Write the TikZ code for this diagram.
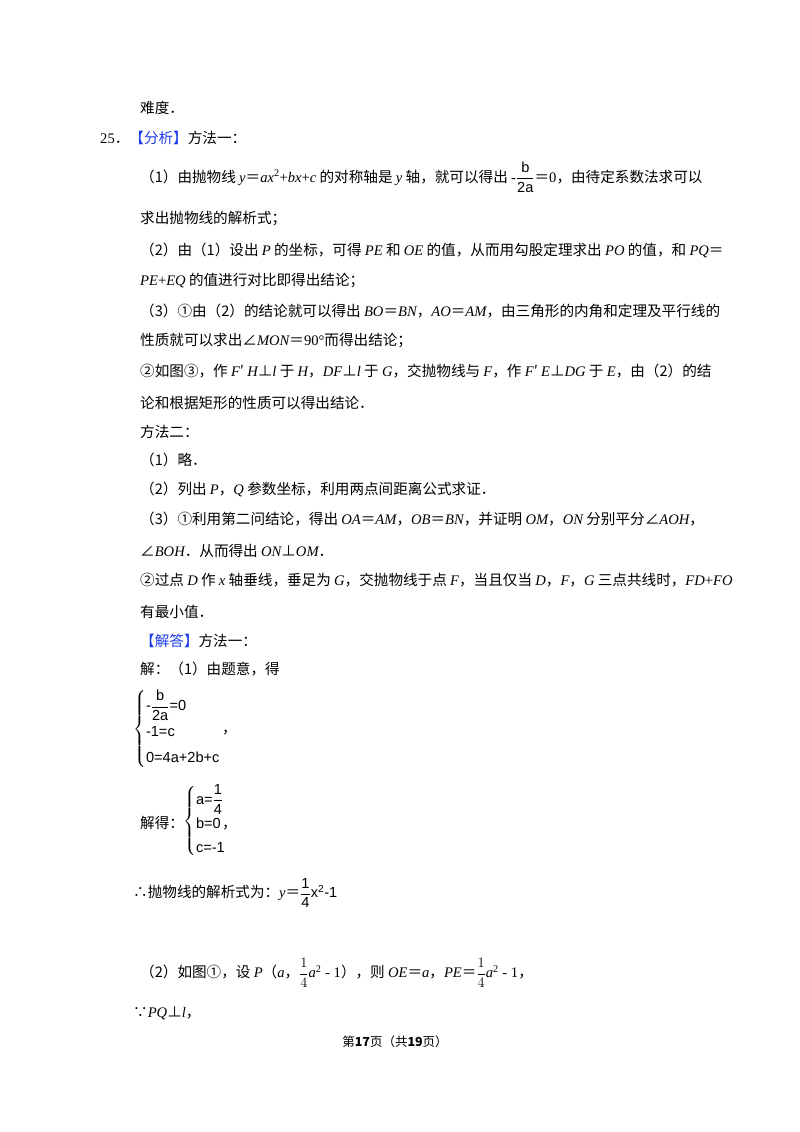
\documentclass[tikz,border=0pt]{standalone}
\usepackage{amsmath}
\usepackage{fontspec}
\setmainfont{Noto Sans CJK SC}
\newfontfamily\lat{Liberation Serif}
\newfontfamily\las{Liberation Sans}
\newcommand{\mi}[1]{{\lat\itshape #1}}
\newcommand{\mr}[1]{{\lat #1}}
\newcommand{\eq}{＝}
\definecolor{hb}{RGB}{30,60,235}
\begin{document}
\begin{tikzpicture}[x=1pt,y=1pt,
  tl/.style={anchor=west,inner sep=0pt,font=\fontsize{14.6}{17}\selectfont}]
\useasboundingbox (0,0) rectangle (800,-1132);
\fill[white] (0,0) rectangle (800,-1132);
\node[tl] (l1) at (140,-108) {难度．};
\node[tl] (l2) at (100,-138) {\mr{25}．\textcolor{hb}{【分析】}方法一：};
\node[tl] (l3) at (140,-177) {（1）由抛物线 \mi{y}\eq\mi{ax}\textsuperscript{\mr{2}}\mr{+}\mi{bx}\mr{+}\mi{c} 的对称轴是 \mi{y} 轴，就可以得出 \mr{-}$\dfrac{\textsf{\las b}}{\textsf{\las 2a}}$\eq\mr{0}，由待定系数法求可以};
\node[tl] (l4) at (140,-219) {求出抛物线的解析式；};
\node[tl] (l5) at (140,-250) {（2）由（1）设出 \mi{P} 的坐标，可得 \mi{PE} 和 \mi{OE} 的值，从而用勾股定理求出 \mi{PO} 的值，和 \mi{PQ}\eq};
\node[tl] (l6) at (140,-281) {\mi{PE}\mr{+}\mi{EQ} 的值进行对比即得出结论；};
\node[tl] (l7) at (140,-311) {（3）①由（2）的结论就可以得出 \mi{BO}\eq\mi{BN}，\mi{AO}\eq\mi{AM}，由三角形的内角和定理及平行线的};
\node[tl] (l8) at (140,-341) {性质就可以求出∠\mi{MON}\eq\mr{90°}而得出结论；};
\node[tl] (l9) at (140,-371) {②如图③，作 \mi{F}′\ \mi{H}⊥\mi{l} 于 \mi{H}，\mi{DF}⊥\mi{l} 于 \mi{G}，交抛物线与 \mi{F}，作 \mi{F}′\ \mi{E}⊥\mi{DG} 于 \mi{E}，由（2）的结};
\node[tl] (l10) at (140,-403) {论和根据矩形的性质可以得出结论．};
\node[tl] (l11) at (140,-432) {方法二：};
\node[tl] (l12) at (140,-460) {（1）略．};
\node[tl] (l13) at (140,-489) {（2）列出 \mi{P}，\mi{Q} 参数坐标，利用两点间距离公式求证．};
\node[tl] (l14) at (140,-519) {（3）①利用第二问结论，得出 \mi{OA}\eq\mi{AM}，\mi{OB}\eq\mi{BN}，并证明 \mi{OM}，\mi{ON} 分别平分∠\mi{AOH}，};
\node[tl] (l15) at (140,-551) {∠\mi{BOH}．从而得出 \mi{ON}⊥\mi{OM}．};
\node[tl] (l16) at (140,-580) {②过点 \mi{D} 作 \mi{x} 轴垂线，垂足为 \mi{G}，交抛物线于点 \mi{F}，当且仅当 \mi{D}，\mi{F}，\mi{G} 三点共线时，\mi{FD}\mr{+}\mi{FO}};
\node[tl] (l17) at (140,-612) {有最小值．};
\node[tl] (l18) at (140,-641) {\textcolor{hb}{【解答】}方法一：};
\node[tl] (l19) at (140,-669) {解：（1）由题意，得};
\node[tl] (s1) at (133,-729) {$\left\{\begin{array}{@{}l@{}}\textsf{\las -}\dfrac{\textsf{\las b}}{\textsf{\las 2a}}\textsf{\las =0}\\[9pt] \textsf{\las -1=c}\\[9pt] \textsf{\las 0=4a+2b+c}\end{array}\right.$};
\node[tl] (c1) at (222,-733) {，};
\node[tl] (l20) at (140,-823) {解得：};
\node[tl] (s2) at (183,-821) {$\left\{\begin{array}{@{}l@{}}\textsf{\las a=}\dfrac{\textsf{\las 1}}{\textsf{\las 4}}\\[7pt] \textsf{\las b=0}\\[7pt] \textsf{\las c=-1}\end{array}\right.$};
\node[tl] (c2) at (222,-828) {，};
\node[tl] (l21) at (133,-893) {∴抛物线的解析式为：\mi{y}\eq$\dfrac{\textsf{\las 1}}{\textsf{\las 4}}$\textsf{\las x}\textsuperscript{\las 2}\textsf{\las -1}};
\node[tl] (l22) at (140,-973) {（2）如图①，设 \mi{P}（\mi{a}，$\dfrac{\mr{1}}{\mr{4}}$\mi{a}\textsuperscript{\mr{2}}\mr{ - 1}），则 \mi{OE}\eq\mi{a}，\mi{PE}\eq$\dfrac{\mr{1}}{\mr{4}}$\mi{a}\textsuperscript{\mr{2}}\mr{ - 1}，};
\node[tl] (l23) at (133,-1013) {∵\mi{PQ}⊥\mi{l}，};
\node[inner sep=0pt,font=\fontsize{12.5}{15}\selectfont] (ft) at (395,-1042) {第\textbf{17}页（共\textbf{19}页）};
\end{tikzpicture}
\end{document}
